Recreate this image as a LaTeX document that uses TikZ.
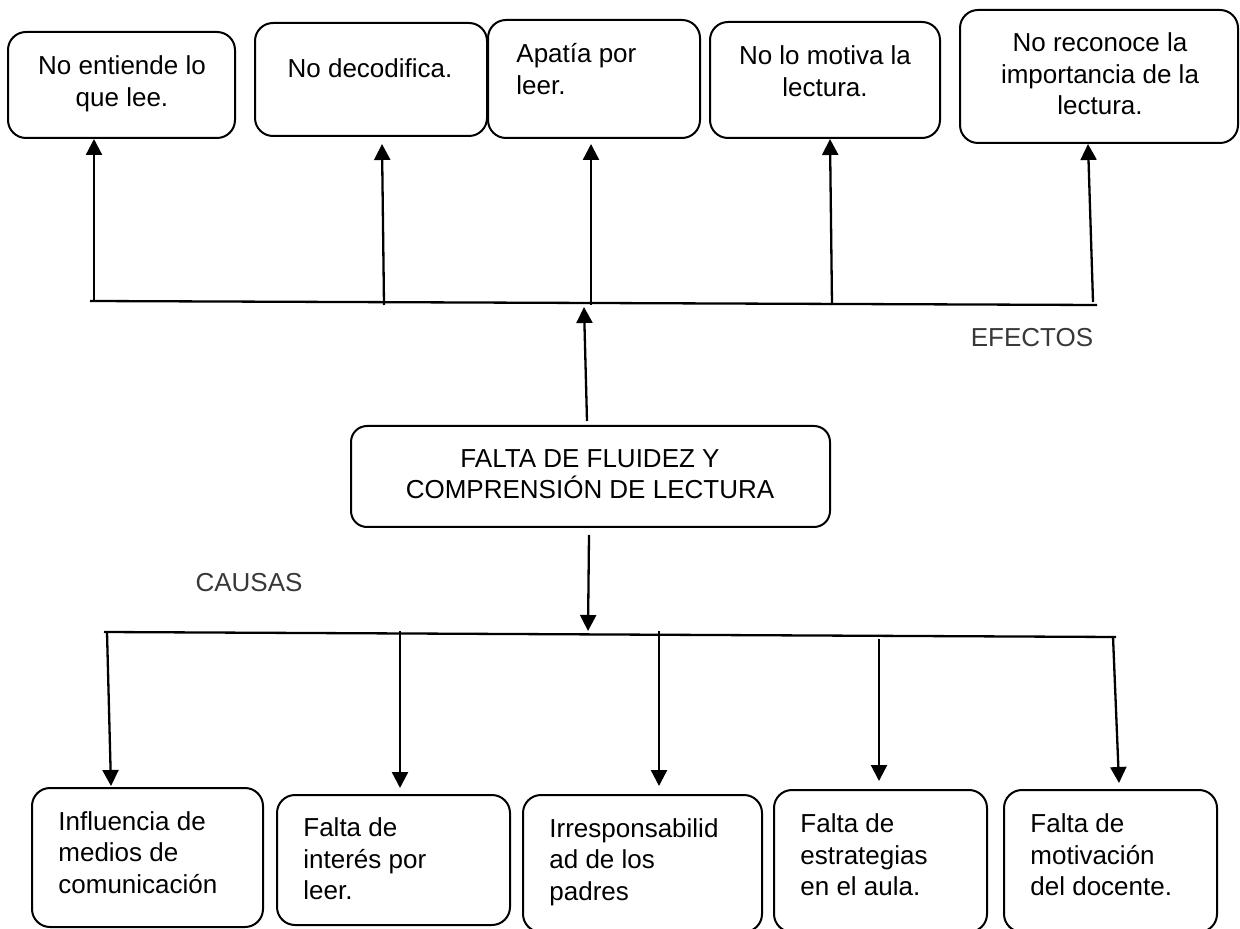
\documentclass[tikz,border=0pt]{standalone}
\usepackage{fontspec}
\setmainfont{Liberation Sans}
\usetikzlibrary{arrows.meta}
\begin{document}
\begin{tikzpicture}[x=0.5pt,y=-0.5pt,
  box/.style={draw, line width=1pt, rounded corners=9pt, inner sep=0pt},
  txt/.style={inner sep=0pt, font=\fontsize{13pt}{15.8pt}\selectfont},
  lbl/.style={inner sep=0pt, font=\fontsize{13pt}{15.8pt}\selectfont, text=black!78},
  conn/.style={line width=1.15pt},
  arr/.style={line width=1.15pt, -{Triangle[length=8pt,width=8pt]}}
]
\useasboundingbox (0,0) rectangle (1240,929);
\clip (0,0) rectangle (1240,929);

% effect boxes
\node[box, minimum width=113.5pt, minimum height=53pt] (e1) at (121.5,85) {};
\node[box, minimum width=116pt, minimum height=56.5pt] (e2) at (371,79.5) {};
\node[box, minimum width=106pt, minimum height=59pt] (e3) at (594,79) {};
\node[box, minimum width=115pt, minimum height=58pt] (e4) at (825,80) {};
\node[box, minimum width=139pt, minimum height=66.5pt] (e5) at (1099,76.5) {};

\node[txt, align=center] (t1) at (122,84) {No entiende lo\\que lee.};
\node[txt] (t2) at (370,68) {No decodifica.};
\node[txt, align=left, anchor=west] (t3) at (516,69) {Apatía por\\leer.};
\node[txt, align=center] (t4) at (825,71) {No lo motiva la\\lectura.};
\node[txt, align=center] (t5) at (1100,74) {No reconoce la\\importancia de la\\lectura.};

% central box
\node[box, rounded corners=8pt, minimum width=239.5pt, minimum height=50.5pt] (c) at (590.5,476.5) {};
\node[txt, align=center] (ct) at (590,474) {FALTA DE FLUIDEZ Y\\COMPRENSIÓN DE LECTURA};

% labels
\node[lbl] (ef) at (1032,338) {EFECTOS};
\node[lbl] (ca) at (249,583) {CAUSAS};

% cause boxes
\node[box, minimum width=115.5pt, minimum height=69.5pt] (b1) at (147.5,857.5) {};
\node[box, minimum width=116.5pt, minimum height=65pt] (b2) at (393.5,860) {};
\node[box, minimum width=119.5pt, minimum height=68.5pt] (b3) at (642.5,863.5) {};
\node[box, minimum width=106.5pt, minimum height=71pt] (b4) at (880.5,861) {};
\node[box, minimum width=106.5pt, minimum height=71pt] (b5) at (1110.5,861) {};

\node[txt, align=left, anchor=west] (s1) at (58,852.5) {Influencia de\\medios de\\comunicación};
\node[txt, align=left, anchor=west] (s2) at (303,859) {Falta de\\interés por\\leer.};
\node[txt, align=left, anchor=west] (s3) at (549,862) {Irresponsabilid\\ad de los\\padres};
\node[txt, align=left, anchor=west] (s4) at (800,855) {Falta de\\estrategias\\en el aula.};
\node[txt, align=left, anchor=west] (s5) at (1030,855) {Falta de\\motivación\\del docente.};

% top line and arrows
\coordinate (tl) at (90,301);
\coordinate (tr) at (1097,305);
\draw[conn] (tl) -- (tr);
\coordinate (a1) at (94,301);   \coordinate (p1) at (94,139);
\coordinate (a2) at (384,305);  \coordinate (p2) at (382,144);
\coordinate (a3) at (591,305);  \coordinate (p3) at (591,144);
\coordinate (a4) at (832,305);  \coordinate (p4) at (830,139);
\coordinate (a5) at (1093,302); \coordinate (p5) at (1088,144);
\draw[arr] (a1) -- (p1);
\draw[arr] (a2) -- (p2);
\draw[arr] (a3) -- (p3);
\draw[arr] (a4) -- (p4);
\draw[arr] (a5) -- (p5);

% central arrows
\coordinate (cu0) at (587,421); \coordinate (cu1) at (584,307);
\coordinate (cd0) at (589,535); \coordinate (cd1) at (588,631);
\draw[arr] (cu0) -- (cu1);
\draw[arr] (cd0) -- (cd1);

% bottom line and arrows
\coordinate (bl) at (104,632);
\coordinate (br) at (1116,637);
\draw[conn] (bl) -- (br);
\coordinate (d1) at (107,632);  \coordinate (q1) at (111,786);
\coordinate (d2) at (400,631);  \coordinate (q2) at (400,788);
\coordinate (d3) at (659,631);  \coordinate (q3) at (659,786);
\coordinate (d4) at (879,639);  \coordinate (q4) at (879,781);
\coordinate (d5) at (1113,637); \coordinate (q5) at (1119,783);
\draw[arr] (d1) -- (q1);
\draw[arr] (d2) -- (q2);
\draw[arr] (d3) -- (q3);
\draw[arr] (d4) -- (q4);
\draw[arr] (d5) -- (q5);
\end{tikzpicture}
\end{document}
